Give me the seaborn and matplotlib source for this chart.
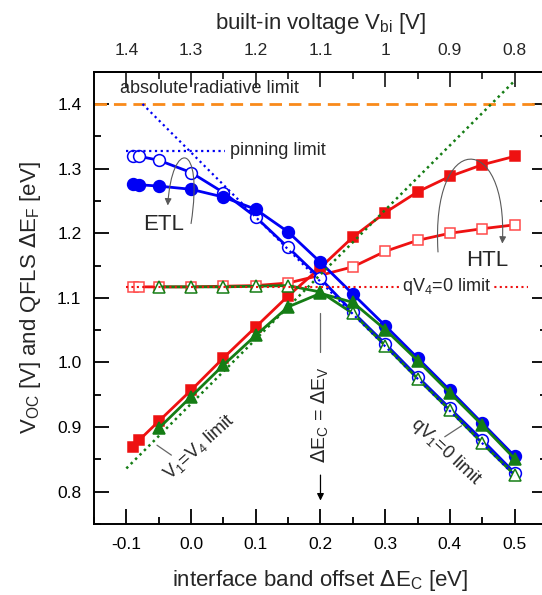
import seaborn as sns
import matplotlib.pyplot as plt
from matplotlib.path import Path
from matplotlib.patches import FancyArrowPatch
from matplotlib.ticker import MultipleLocator, FixedLocator, FixedFormatter

# interface band offset dE_C [eV]
offset_all = [-0.09, -0.08, -0.05, 0.0, 0.05, 0.1, 0.15, 0.2, 0.25, 0.3, 0.35, 0.4, 0.45, 0.5]
offset_qfls = [-0.05, 0.0, 0.05, 0.1, 0.15, 0.2, 0.25, 0.3, 0.35, 0.4, 0.45, 0.5]

# Voc / QFLS values [eV]
htl_filled = [0.869, 0.880, 0.909, 0.957, 1.007, 1.055, 1.103, 1.147, 1.194, 1.232, 1.264, 1.288, 1.306, 1.319]
htl_open = [1.117, 1.117, 1.117, 1.117, 1.118, 1.119, 1.123, 1.135, 1.148, 1.172, 1.189, 1.200, 1.207, 1.213]
etl_filled = [1.276, 1.275, 1.273, 1.268, 1.256, 1.237, 1.202, 1.155, 1.106, 1.057, 1.007, 0.957, 0.906, 0.855]
etl_open = [1.320, 1.319, 1.313, 1.294, 1.263, 1.225, 1.178, 1.130, 1.078, 1.029, 0.978, 0.929, 0.880, 0.829]
qfls_filled = [0.898, 0.947, 0.996, 1.042, 1.086, 1.107, 1.093, 1.051, 1.003, 0.953, 0.903, 0.851]
qfls_open = [1.117, 1.117, 1.117, 1.118, 1.119, 1.109, 1.076, 1.026, 0.975, 0.926, 0.875, 0.826]

# limit lines
radiative_limit = 1.40
pinning_x = [-0.1, 0.052]
pinning_y = [1.327, 1.327]
qv1_x = [-0.075, 0.5]
qv1_y = [1.40, 0.825]
v1v4_x = [-0.1, 0.5]
v1v4_y = [0.836, 1.436]
qv4_x = [-0.1, 0.52]
qv4_y = [1.117, 1.117]

# top axis: built-in voltage
vbi_ticks = [1.4, 1.3, 1.2, 1.1, 1.0, 0.9, 0.8]
vbi_labels = ['1.4', '1.3', '1.2', '1.1', '1', '0.9', '0.8']
vbi_minor = [1.35, 1.25, 1.15, 1.05, 0.95, 0.85]

RED = '#ee1111'
RED_L = '#ff4a4a'
BLUE = '#0000f5'
GREEN = '#157d15'
ORANGE = '#f98a1a'

sns.set_theme(style='ticks')
plt.rcParams['font.family'] = ['Liberation Sans', 'DejaVu Sans']
plt.rcParams['axes.linewidth'] = 1.4

fig = plt.figure(figsize=(5.42, 5.95), dpi=100)
ax = fig.add_axes([0.1734, 0.1193, 0.8358, 0.7602])


def series(x, y, color, marker, ms, filled, z, edge=None):
    sns.lineplot(x=x, y=y, ax=ax, color=color, lw=2, marker=marker, markersize=ms,
                 markerfacecolor=color if filled else 'white',
                 markeredgecolor=edge or color, markeredgewidth=1.1,
                 sort=False, errorbar=None, zorder=z)


series(offset_all, htl_open, RED, 's', 7.5, False, 3, edge=RED_L)
series(offset_all, htl_filled, RED, 's', 7.5, True, 3)
series(offset_all, etl_open, BLUE, 'o', 8.5, False, 4)
series(offset_all, etl_filled, BLUE, 'o', 8.5, True, 4)
series(offset_qfls, qfls_open, GREEN, '^', 9, False, 5)
series(offset_qfls, qfls_filled, GREEN, '^', 9, True, 5)

# limits
ax.axhline(radiative_limit, color=ORANGE, lw=2, ls=(0, (4.5, 2.5)), zorder=2)
ax.plot(pinning_x, pinning_y, color=BLUE, lw=1.6, ls=(0, (1, 1.6)), zorder=6)
ax.plot(qv1_x, qv1_y, color=BLUE, lw=1.6, ls=(0, (1, 1.6)), zorder=6)
ax.plot(v1v4_x, v1v4_y, color=GREEN, lw=1.8, ls=(0, (1, 1.5)), zorder=6)
ax.plot(qv4_x, qv4_y, color=RED, lw=1.5, ls=(0, (1, 1.6)), zorder=6)

# text labels
ax.text(-0.11, 1.424, 'absolute radiative limit', fontsize=13, ha='left', va='center')
ax.text(0.06, 1.328, 'pinning limit', fontsize=13, ha='left', va='center')
ax.text(-0.042, 1.214, 'ETL', fontsize=16, ha='center', va='center')
ax.text(0.458, 1.158, 'HTL', fontsize=16, ha='center', va='center')
ax.text(0.395, 1.117, r'qV$_\mathregular{4}$=0 limit', fontsize=13, ha='center', va='center',
        zorder=7, bbox=dict(facecolor='white', edgecolor='none', pad=1))
ax.text(0.012, 0.869, r'V$_\mathregular{1}$=V$_\mathregular{4}$ limit', fontsize=13,
        rotation=42, ha='center', va='center')
ax.text(0.393, 0.8615, r'qV$_\mathregular{1}$=0 limit', fontsize=13,
        rotation=-43, ha='center', va='center')
ax.text(0.2, 0.92, r'$\Delta$E$_\mathregular{C}$ = $\Delta$E$_\mathregular{V}$', fontsize=14,
        rotation=90, ha='center', va='center')

# leader lines
ax.plot([0.2, 0.2], [1.076, 1.016], color='0.4', lw=0.9)
ax.annotate('', xy=(0.2, 0.782), xytext=(0.2, 0.83),
            arrowprops=dict(arrowstyle='-|>', color='black', lw=0.9, mutation_scale=10))
ax.plot([-0.0527, -0.0304], [0.872, 0.8566], color='0.4', lw=0.9)
ax.plot([0.392, 0.418], [0.885, 0.902], color='0.4', lw=0.9)

# curved arrows ETL / HTL
for pts in ([(0.0, 1.215), (0.02, 1.345), (-0.03, 1.345), (-0.036, 1.243)],
            [(0.3816, 1.171), (0.37, 1.36), (0.49, 1.36), (0.481, 1.184)]):
    path = Path(pts, [Path.MOVETO, Path.CURVE4, Path.CURVE4, Path.CURVE4])
    ax.add_patch(FancyArrowPatch(path=path, arrowstyle='-|>', mutation_scale=10,
                                 color='0.35', lw=0.8, zorder=7))

ax.set_xlim(-0.15, 0.55)
ax.set_ylim(0.75, 1.45)
ax.xaxis.set_major_locator(MultipleLocator(0.1))
ax.xaxis.set_minor_locator(MultipleLocator(0.05))
ax.yaxis.set_major_locator(MultipleLocator(0.1))
ax.yaxis.set_minor_locator(MultipleLocator(0.05))
ax.xaxis.set_major_formatter(lambda v, p: f'{v:.1f}')
ax.yaxis.set_major_formatter(lambda v, p: f'{v:.1f}')
ax.tick_params(which='both', direction='in', right=True, top=False, width=1.3,
               labelsize=12.5, colors='black')
ax.tick_params(which='major', length=11)
ax.tick_params(which='minor', length=5)
ax.tick_params(axis='x', pad=9)
ax.tick_params(axis='y', pad=9)

ax.set_xlabel(r'interface band offset $\Delta$E$_\mathregular{C}$ [eV]', fontsize=16, labelpad=12)
ax.set_ylabel(r'V$_\mathregular{OC}$ [V] and QFLS $\Delta$E$_\mathregular{F}$ [eV]', fontsize=16, labelpad=10)

top = ax.secondary_xaxis('top', functions=(lambda x: 1.3 - x, lambda v: 1.3 - v))
top.xaxis.set_major_locator(FixedLocator(vbi_ticks))
top.xaxis.set_major_formatter(FixedFormatter(vbi_labels))
top.xaxis.set_minor_locator(FixedLocator(vbi_minor))
top.tick_params(which='both', direction='in', width=1.3, labelsize=12.5, pad=10)
top.tick_params(which='major', length=11)
top.tick_params(which='minor', length=5)
top.set_xlabel(r'built-in voltage V$_\mathregular{bi}$ [V]', fontsize=16, labelpad=10)

for s in ax.spines.values():
    s.set_color('black')

fig.savefig('out.png', dpi=100)
